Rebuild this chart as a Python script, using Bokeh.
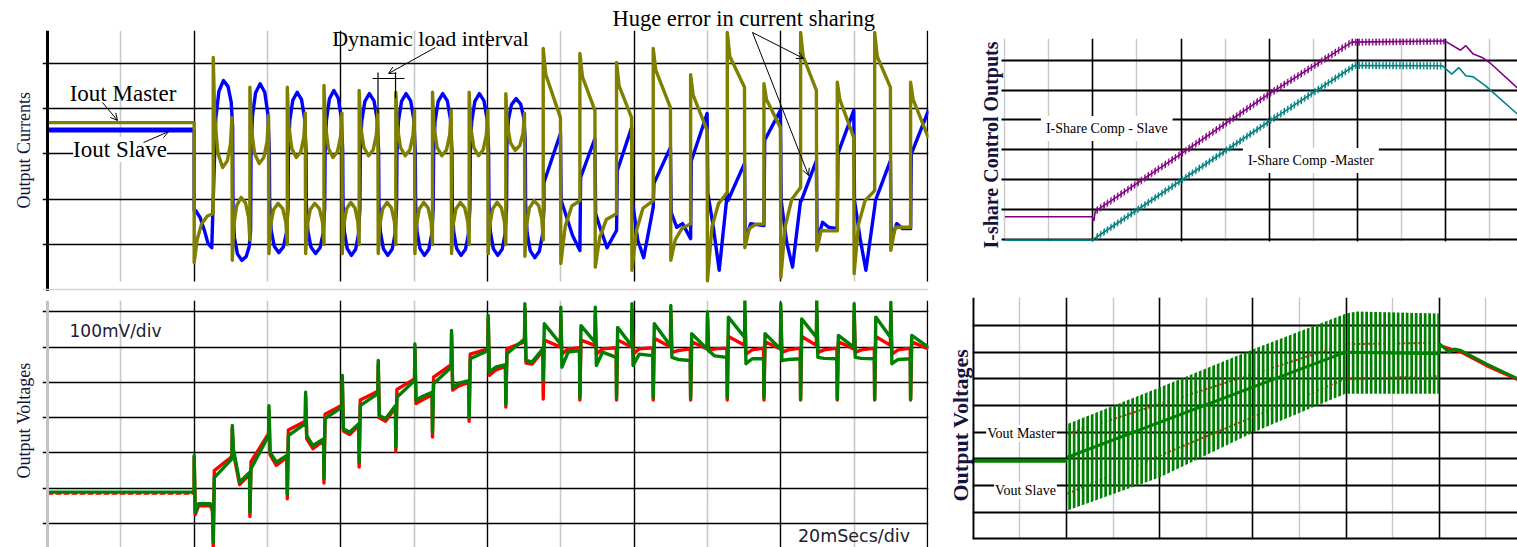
import numpy as np
from bokeh.plotting import figure
from bokeh.layouts import row, column
from bokeh.models import Range1d, FixedTicker, Label, Arrow, OpenHead, Span, Grid, Title
from bokeh.embed import file_html
from bokeh.resources import INLINE

# ======================= DATA =======================
T_END = 120.14
# load-step instants (ms) shared by both left panels
TL_RISE = [22.6, 27.6, 32.7, 37.7, 42.5, 47.5, 52.5, 57.5, 62.5, 67.6,
           72.6, 77.6, 82.6, 87.7, 92.7, 97.7, 102.7, 107.7, 112.8, 117.7]
TL_DROP = [25.2, 30.2, 35.2, 40.2, 45.1, 50.1, 55.1, 60.1, 65.1, 70.0,
           74.7, 79.7, 85.0, 90.0, 95.1, 100.0, 104.9, 110.0, 115.0]

# ---- top-left: output currents (grid unit = 10) ----
IOUT_M_PRE = 26.9
IOUT_S_PRE = 25.3
OLIVE_PRE_T = [0.0, 20.0, 20.0, 20.4, 21.0, 21.8, 22.6]
OLIVE_PRE_V = [26.9, 26.9, -4.0, 1.0, 4.5, 6.3, 6.8]
BLUE_PRE_T = [20.0, 20.0, 20.2, 20.8, 21.4, 21.9, 22.4]
BLUE_PRE_V = [25.3, 7.5, 7.5, 6.0, 3.1, 0.2, -0.7]
# cycles 0..8 (good sharing, ringing ovals)
O_PEAK1 = [41.3, 34.7, 34.7, 35.1, 34.0, 33.6, 33.6, 33.6, 33.3]
O_HI_BOT = [17.0, 17.9, 19.2, 19.2, 19.6, 19.6, 19.6, 19.6, 20.8]
O_HI_END = [28.0, 28.5, 29.0, 29.0, 29.6, 29.6, 29.6, 29.6, 29.0]
O_LOW_SPIKE = [-3.5, -2.0, -2.0, -2.0, -2.0, -2.0, -2.0, -2.0, -2.6]
O_LO_TOP = [10.4, 9.1, 9.1, 9.3, 9.3, 9.3, 9.3, 9.3, 9.7]
O_LO_END = [1.0, 0.0, 0.0, 0.0, 0.0, 0.0, 0.0, 0.0, 1.0]
B_HI_START = [17.9, 20.0, 20.0, 20.0, 20.0, 20.0, 20.0, 20.0, 22.0]
B_TOP = [36.2, 35.5, 33.6, 34.0, 33.3, 33.3, 33.3, 33.3, 32.2]
B_HI_END = [25.8, 21.0, 21.0, 21.0, 21.0, 21.0, 21.0, 21.0, 23.0]
B_LO_START = [7.5, 9.0, 9.0, 9.0, 9.0, 9.0, 9.0, 9.0, 9.0]
B_BOT = [-3.5, -1.8, -2.0, -2.4, -2.4, -2.4, -2.4, -2.4, -2.9]
B_LO_END = [3.1, 8.0, 8.0, 8.0, 8.0, 8.0, 8.0, 8.0, 8.0]
# cycles 9..19 (huge sharing error)
O_PEAK2 = [43.3, 42.2, 40.2, 43.3, 37.5, 46.8, 35.5, 46.8, 35.8, 46.8, 35.8]
O_KNEE2 = [37.5, 37.0, 35.0, 38.5, 33.0, 41.5, 32.0, 41.5, 32.0, 41.5, 32.0]
O_DEC2 = [28.0, 29.6, 28.0, 30.2, 25.2, 34.7, 25.8, 34.0, 23.6, 34.7, 23.5]
O_BOT2 = [-4.2, -5.0, -5.7, -3.5, -8.0, -0.7, -7.3, -1.3, -6.4, -1.3]
O_LA2 = [4.0, 1.5, 3.0, 1.0, 3.8, 3.5, 4.0, 3.1, 4.5, 3.8]
O_LB2 = [8.5, 5.5, 8.0, 3.5, 9.0, 4.5, 10.0, 3.0, 9.7, 3.8]
O_LE2 = [9.7, 6.8, 9.7, 4.6, 11.5, 4.5, 12.6, 3.0, 11.9, 3.8]
B_RS2 = [13.7, 14.8, 16.3, 13.5, 18.5, 9.7, 23.0, 9.7, 20.1, 9.7, 20.0]
B_RE2 = [24.5, 23.4, 25.8, 21.4, 28.9, 17.9, 29.6, 18.5, 29.6, 18.5, 29.6]
B_LS2 = [9.7, 6.8, 9.7, 7.1, 11.3, 1.0, 9.7, 0.9, 9.7, 0.9]
B_LA2 = [6.0, 3.0, 0.9, 3.8, 3.8, 4.6, 0.5, 4.9, 1.5, 4.6]
B_LB2 = [2.0, -0.7, -2.9, 4.6, -5.7, 4.4, -5.0, 3.8, -5.7, 3.5]
B_LE2 = [-1.3, 3.1, 8.2, 1.3, 11.3, 4.2, 9.7, 3.5, 8.2, 3.5]

# ---- bottom-left: output voltages (mV, 100 mV/div) ----
G_PRE_T = [0.0, 20.0, 20.0, 20.15, 20.6, 22.2, 22.5]
G_PRE_V = [89, 89, 193, 32, 56, 56, 42]
R_PRE_LEVEL = 86
R_PRE_T = [20.0, 20.0, 20.15, 20.6, 22.2, 22.5]
R_PRE_V = [86, 188, 25, 50, 50, 36]
G_DOWN = [-53, 32, 84, 127, 174, 216, 259, 301, 339, 405, 358, 358, 358, 358, 358, 358, 353, 353, 353, 353]
G_A = [130, 155, 249, 297, 334, 358, 396, 467, 481, 566, 561, 556, 566, 538, 585, 538, 580, 533, 585, 533]
G_B = [183, 249, 283, 330, 368, 405, 443, 490, 523, 509, 514, 504, 504, 495, 528, 495, 528, 500, 528, 500]
G_UP = [278, 334, 372, 420, 462, 509, 547, 590, 623, 613, 613, 623, 618, 600, 632, 623, 632, 623, 627]
G_C = [212, 202, 249, 268, 306, 349, 386, 429, 462, 443, 448, 448, 471, 490, 453, 462, 471, 471, 453]
G_M = [117, 174, 221, 259, 297, 360, 398, 443, 458, 486, 486, 480, 465, 475, 467, 465, 468, 468, 465]
G_E = [145, 193, 240, 283, 334, 372, 405, 450, 495, 490, 471, 476, 462, 471, 467, 467, 467, 467, 467]
R_DOWN = [-67, 20, 70, 115, 160, 205, 245, 290, 330, 353, 350, 350, 350, 350, 350, 350, 350, 350, 350, 350]
R_A = [150, 175, 265, 310, 350, 380, 415, 480, 495, 520, 520, 520, 525, 515, 530, 515, 530, 515, 530, 515]
R_B = [190, 255, 290, 335, 375, 410, 450, 495, 515, 500, 505, 500, 500, 495, 505, 495, 505, 495, 505, 495]
R_UP = [270, 320, 360, 405, 450, 495, 535, 580, 610, 590, 590, 600, 600, 585, 600, 600, 605, 600, 605]
R_C = [200, 195, 240, 262, 300, 340, 378, 420, 455, 480, 480, 480, 485, 490, 480, 485, 485, 485, 480]
R_M = [110, 165, 212, 252, 290, 350, 390, 435, 452, 495, 495, 495, 490, 495, 492, 492, 492, 492, 492]
R_E = [140, 188, 235, 278, 328, 365, 400, 445, 490, 498, 498, 498, 495, 497, 497, 497, 497, 497, 497]

# ---- top-right: I-share control outputs (div) ----
TR_PURPLE_X = [0.0, 1.98, 2.02, 2.05, 4.0, 6.0, 7.88, 9.99, 10.35, 10.47, 10.64, 10.84, 11.01, 11.64]
TR_PURPLE_Y = [0.77, 0.77, 0.63, 0.95, 2.87, 4.87, 6.60, 6.64, 6.33, 6.48, 6.20, 6.09, 5.92, 5.07]
TR_TEAL_X = [0.0, 1.98, 2.05, 4.0, 6.0, 7.95, 9.94, 10.15, 10.31, 10.47, 10.64, 10.92, 11.64]
TR_TEAL_Y = [-0.01, -0.01, 0.06, 1.98, 3.95, 5.82, 5.81, 5.53, 5.75, 5.48, 5.44, 5.14, 4.20]
TR_PURPLE_RIP_X = [2.05, 4.0, 6.0, 7.88, 9.99]
TR_PURPLE_RIP_Y = [0.95, 2.87, 4.87, 6.60, 6.64]
TR_TEAL_RIP_X = [2.05, 4.0, 6.0, 7.95, 9.94]
TR_TEAL_RIP_Y = [0.06, 1.98, 3.95, 5.82, 5.81]
TR_RIPPLE = 0.12

# ---- bottom-right: output voltages (div) ----
BR_FLAT_X = [0.0, 2.02]
BR_FLAT_Y = [2.93, 2.93]
BR_BAND_X = [2.02, 4.01, 6.02, 7.99, 8.22, 10.0]
BR_BAND_TOP = [4.31, 5.68, 7.12, 8.44, 8.53, 8.45]
BR_BAND_BOT = [1.06, 2.31, 4.00, 5.44, 5.44, 5.44]
BR_MID_X = [2.02, 7.99, 10.0]
BR_MID_Y = [3.06, 7.00, 6.94]
BR_TAIL_X = [10.0, 10.01, 10.21, 10.32, 10.47, 11.01, 11.69]
BR_TAIL_Y = [6.94, 7.31, 7.00, 7.12, 7.06, 6.56, 6.00]
BR_RED_HI_X = [2.02, 7.99, 10.0]
BR_RED_HI_Y = [3.94, 7.30, 7.35]
BR_RED_LO_X = [2.02, 7.99, 10.0]
BR_RED_LO_Y = [1.69, 6.00, 6.10]
BR_RED_TAIL_X = [10.0, 10.32, 10.47, 11.01, 11.69]
BR_RED_TAIL_Y = [7.25, 7.08, 7.00, 6.50, 5.96]

# ======================= STYLE =======================
OLIVE, BLUE, GREEN, RED = "#808000", "#0000ff", "#008000", "#ff0000"
PURPLE, TEAL = "#800080", "#008080"
GRAY = "#c8c8c8"
SERIF, SANS = "Liberation Serif", "DejaVu Sans"
LABEL_COLOR = "#141440"
ARC_F = [0.0, 0.08, 0.25, 0.5, 0.75, 0.92, 1.0]
ARC_W = [0.0, 0.54, 0.87, 1.0, 0.87, 0.54, 0.0]
HAS_CB = "cross_bounds" in Grid.properties()


def arc(t1, t2, a, b, c):
    xs, ys = [], []
    for f, w in zip(ARC_F, ARC_W):
        base = a if f <= 0.5 else c
        xs.append(t1 + (t2 - t1) * f)
        ys.append(base + (b - base) * w)
    return xs, ys


def base_fig(w, h, xr, yr, bl, br, bt, bb):
    p = figure(width=w, height=h, x_range=Range1d(*xr), y_range=Range1d(*yr),
               toolbar_location=None, output_backend="svg",
               x_axis_location=None, y_axis_location=None,
               min_border_left=bl, min_border_right=br,
               min_border_top=bt, min_border_bottom=bb)
    p.outline_line_color = None
    p.border_fill_color = "white"
    p.background_fill_color = "white"
    p.xgrid.visible = False
    p.ygrid.visible = False
    return p


def side_label(p, text, size, offset, standoff, style="normal"):
    p.add_layout(Title(text=text, align="left", offset=offset, standoff=standoff,
                       text_font=SERIF, text_font_size=f"{size}px",
                       text_font_style=style, text_color=LABEL_COLOR), "left")


def add_grid(p, dim, ticks, minor=None, width=1.4, mwidth=1.6, cross=None):
    g = Grid(dimension=dim, ticker=FixedTicker(ticks=ticks, minor_ticks=minor or []))
    g.grid_line_color = "black"
    g.grid_line_width = width
    if minor:
        g.minor_grid_line_color = GRAY
        g.minor_grid_line_width = mwidth
    if cross is not None and HAS_CB:
        g.cross_bounds = cross
    p.add_layout(g)


def add_text(p, x, y, text, size, font=SERIF, color="black", bg=None, pad=0,
             angle=0, style="normal"):
    kw = dict(x=x, y=y, text=text, text_font=font, text_font_size=f"{size}px",
              text_color=color, text_align="center", text_baseline="middle",
              angle=angle, angle_units="deg", text_font_style=style)
    if bg:
        kw.update(background_fill_color=bg, padding=pad)
    p.add_layout(Label(**kw))


def add_arrow(p, x0, y0, x1, y1):
    p.add_layout(Arrow(end=OpenHead(size=7, line_width=1, line_color="black"),
                       x_start=x0, y_start=y0, x_end=x1, y_end=y1,
                       line_width=1, line_color="black"))


MAJ_T = [20, 40, 60, 80, 100, 120]
MIN_T = [10, 30, 50, 70, 90, 110]
TL_YR = (-10.375, 47.24) if HAS_CB else (-8.17, 47.24)
TL_BB = 0 if HAS_CB else 10
TR_YR = (-0.558, 6.721) if HAS_CB else (-0.0568, 6.721)
TR_BB = 24 if HAS_CB else 39

# ======================= TOP LEFT =======================
tl = base_fig(945, 291, (-0.682, T_END), TL_YR, 42, 17, 30, TL_BB)
side_label(tl, "Output Currents", 18, 83, 18)
add_grid(tl, 0, MAJ_T, MIN_T, cross=(-8.17, 47.24))
add_grid(tl, 1, [0, 10, 20, 30, 40])
tl.add_layout(Span(location=0, dimension="height", line_color="black", line_width=3))
if HAS_CB:
    tl.add_layout(Span(location=-9.93, dimension="width", line_color="#d4d4d4", line_width=1.5))
tl.title.text = "Huge error in current sharing"
tl.title.text_font = SERIF
tl.title.text_font_size = "22.5px"
tl.title.text_font_style = "normal"
tl.title.text_color = "black"
tl.title.align = "left"
tl.title.offset = 570
tl.title.standoff = 0

ox, oy = list(OLIVE_PRE_T), list(OLIVE_PRE_V)
bx, by = list(BLUE_PRE_T), list(BLUE_PRE_V)
for k in range(20):
    T = TL_RISE[k]
    if k < 9:
        D, Tn = TL_DROP[k], TL_RISE[k + 1]
        xs, ys = arc(T, D - 0.05, O_PEAK1[k], O_HI_BOT[k], O_HI_END[k]); ox += xs; oy += ys
        xs, ys = arc(D, Tn, O_LOW_SPIKE[k], O_LO_TOP[k], O_LO_END[k]); ox += xs; oy += ys
        xs, ys = arc(T + 0.15, D + 0.05, B_HI_START[k], B_TOP[k], B_HI_END[k]); bx += xs; by += ys
        xs, ys = arc(D + 0.1, Tn + 0.1, B_LO_START[k], B_BOT[k], B_LO_END[k]); bx += xs; by += ys
    else:
        j = k - 9
        ox += [T, T + 0.35]; oy += [O_PEAK2[j], O_KNEE2[j]]
        if k == 19:
            ox += [T_END]; oy += [O_DEC2[j]]
            bx += [T + 0.1, T_END]; by += [B_RS2[j], B_RE2[j]]
        else:
            D, Tn = TL_DROP[k], TL_RISE[k + 1]
            ox += [D - 0.05, D, D + 0.6, D + 1.5, Tn]
            oy += [O_DEC2[j], O_BOT2[j], O_LA2[j], O_LB2[j], O_LE2[j]]
            bx += [T + 0.1, D - 0.05, D + 0.05, D + 0.8, D + 1.6, Tn]
            by += [B_RS2[j], B_RE2[j], B_LS2[j], B_LA2[j], B_LB2[j], B_LE2[j]]

tl.line([0, 20], [IOUT_S_PRE, IOUT_S_PRE], line_color=BLUE, line_width=5)
tl.line(bx, by, line_color=BLUE, line_width=3.4, line_join="round")
tl.line(ox, oy, line_color=OLIVE, line_width=3.4, line_join="round")

add_text(tl, 10.3, 33.3, "Iout Master", 23)
add_text(tl, 9.89, 20.97, "Iout Slave", 23, bg="white", pad=0)
add_text(tl, 52.23, 45.47, "Dynamic load interval", 22)
add_arrow(tl, 7.5, 31.35, 9.55, 27.37)
add_arrow(tl, 13.09, 22.5, 16.5, 24.9)
add_arrow(tl, 52.9, 43.5, 46.5, 37.75)
add_arrow(tl, 96.14, 46.8, 103.1, 41.06)
add_arrow(tl, 96.14, 46.8, 103.78, 15.23)
DIM_X0 = [44.32, 45.07, 47.46]
DIM_Y0 = [36.64, 37.97, 37.97]
DIM_X1 = [48.68, 45.07, 47.46]
DIM_Y1 = [36.64, 28.92, 32.23]
tl.segment(DIM_X0, DIM_Y0, DIM_X1, DIM_Y1, line_color="black", line_width=1.2)

# ======================= BOTTOM LEFT =======================
bl = base_fig(945, 256, (-0.682, T_END), (-68.0, 632.1), 42, 17, 9, 0)
side_label(bl, "Output Voltages", 18, 69, 18)
add_grid(bl, 0, MAJ_T, MIN_T)
add_grid(bl, 1, [0, 100, 200, 300, 400, 500, 600])
bl.add_layout(Span(location=0, dimension="height", line_color="#c4c4c4", line_width=3))


def vout(pre_t, pre_v, down, a, b, up, c, m, e):
    xs, ys = list(pre_t), list(pre_v)
    for k in range(20):
        T = TL_RISE[k]
        xs += [T, T + 0.15]; ys += [down[k], a[k]]
        if k < 19:
            D = TL_DROP[k]
            xs += [D - 0.05, D, D + 0.15, D + 1.0, TL_RISE[k + 1] - 0.05]
            ys += [b[k], up[k], c[k], m[k], e[k]]
        else:
            xs += [T_END]; ys += [b[k]]
    return xs, ys


rx, ry = vout(R_PRE_T, R_PRE_V, R_DOWN, R_A, R_B, R_UP, R_C, R_M, R_E)
gx, gy = vout(G_PRE_T, G_PRE_V, G_DOWN, G_A, G_B, G_UP, G_C, G_M, G_E)
bl.line([0, 20], [R_PRE_LEVEL, R_PRE_LEVEL], line_color=RED, line_width=3, line_dash="6 2")
bl.line(rx, ry, line_color=RED, line_width=3.4, line_join="round")
bl.line(gx, gy, line_color=GREEN, line_width=3.4, line_join="round")
add_text(bl, 9.27, 547, "100mV/div", 17, font=SANS, color="#202030")
add_text(bl, 109.98, -34.0, "20mSecs/div", 17.5, font=SANS, color="#202030")

# ======================= TOP RIGHT =======================
# (frame starts at the same left edge as the bottom-right panel; column layouts align frames)
tr = base_fig(572, 280, (-0.737, 11.644), TR_YR, 26, 0, 38, TR_BB)
add_grid(tr, 0, [2, 4, 6, 8, 10], [0, 1, 3, 5, 7, 9, 11], width=1.6, mwidth=1.4,
         cross=(-0.0568, 6.721))
add_grid(tr, 1, [0, 1, 2, 3, 4, 5, 6], width=1.9, cross=(-0.079, 11.644))
for rx_, ry_, col in ((TR_TEAL_RIP_X, TR_TEAL_RIP_Y, TEAL), (TR_PURPLE_RIP_X, TR_PURPLE_RIP_Y, PURPLE)):
    cy = np.array(ry_)
    tr.varea(x=rx_, y1=cy - TR_RIPPLE, y2=cy + TR_RIPPLE, fill_color=None, fill_alpha=0,
             hatch_pattern="|", hatch_color=col, hatch_scale=3.4, hatch_weight=1.5)
tr.line(TR_TEAL_X, TR_TEAL_Y, line_color=TEAL, line_width=1.6)
tr.line(TR_PURPLE_X, TR_PURPLE_Y, line_color=PURPLE, line_width=1.6)
add_text(tr, -0.306, 3.165, "I-share Control Outputs", 20, color=LABEL_COLOR, angle=90, style="bold")
add_text(tr, 2.313, 3.716, "I-Share Comp - Slave", 14, bg="white", pad=5)
add_text(tr, 6.95, 2.647, "I-Share Comp -Master", 14, bg="white", pad=5)

# ======================= BOTTOM RIGHT =======================
br = base_fig(572, 267, (-0.015, 11.68), (-0.026, 9.051), 26, 0, 17, 8)
side_label(br, "Output Voltages", 22, 38, 0, style="bold")
add_grid(br, 0, [2, 4, 6, 8, 10], [1, 3, 5, 7, 9, 11], width=1.6, mwidth=1.4)
add_grid(br, 1, [1, 2, 3, 4, 5, 6, 7, 8], width=1.9)
br.add_layout(Span(location=0, dimension="width", line_color="black", line_width=2.5))
br.add_layout(Span(location=0, dimension="height", line_color="black", line_width=2.5))
br.line(BR_RED_HI_X, BR_RED_HI_Y, line_color=RED, line_width=2, line_dash="2 3")
br.line(BR_RED_LO_X, BR_RED_LO_Y, line_color=RED, line_width=2, line_dash="2 3")
br.line(BR_RED_TAIL_X, BR_RED_TAIL_Y, line_color=RED, line_width=3)
br.varea(x=BR_BAND_X, y1=BR_BAND_BOT, y2=BR_BAND_TOP, fill_color=None, fill_alpha=0,
         hatch_pattern="|", hatch_color=GREEN, hatch_scale=4.5, hatch_weight=3.0)
br.line(BR_FLAT_X, BR_FLAT_Y, line_color=GREEN, line_width=4)
br.line(BR_MID_X, BR_MID_Y, line_color=GREEN, line_width=3)
br.line(BR_TAIL_X, BR_TAIL_Y, line_color=GREEN, line_width=3)
add_text(br, 1.036, 3.95, "Vout Master", 14, bg="white", pad=1)
add_text(br, 1.122, 1.81, "Vout Slave", 14, bg="white", pad=1)

layout = row(column(tl, bl), column(tr, br))
open("out.html", "w").write(file_html(layout, INLINE))
